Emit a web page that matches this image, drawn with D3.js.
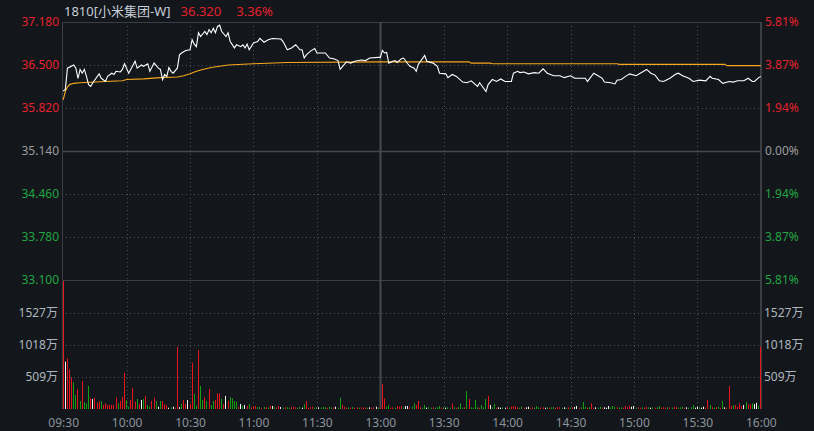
<!DOCTYPE html>
<html><head><meta charset="utf-8">
<script src="https://cdn.jsdelivr.net/npm/d3@7"></script>
<style>
html,body{margin:0;padding:0;background:#13161b;}
svg{display:block;}
text{font-family:"Noto Sans","Noto Sans CJK SC",sans-serif;}
</style></head><body>
<svg id="c" width="814" height="431"></svg>
<script>
const stockTitle = "1810[小米集团-W]";
const lastPrice = "36.320";
const lastChange = "3.36%";
const prevClose = 35.14;
const timeLabels = ["09:30","10:00","10:30","11:00","11:30","13:00","13:30","14:00","14:30","15:00","15:30","16:00"];
const priceTicks = [37.18,36.50,35.82,35.14,34.46,33.78,33.10];
const pctTickLabels = ["5.81%","3.87%","1.94%","0.00%","1.94%","3.87%","5.81%"];
const volTicks = [509,1018,1527];
const volMax = 2036;

const priceTimes = ["09:30","09:31","09:32","09:35","09:36","09:37","09:38","09:39","09:40","09:41","09:42","09:43","09:44","09:47","09:48","09:50","09:51","09:53","09:54","09:55","09:57","09:58","09:59","10:01","10:04","10:05","10:07","10:08","10:10","10:11","10:13","10:15","10:16","10:17","10:18","10:19","10:20","10:21","10:22","10:24","10:25","10:26","10:28","10:30","10:31","10:32","10:33","10:34","10:35","10:37","10:38","10:39","10:40","10:41","10:42","10:43","10:44","10:45","10:47","10:48","10:49","10:51","10:52","10:54","10:55","10:56","10:57","10:58","11:00","11:02","11:03","11:05","11:07","11:09","11:13","11:14","11:16","11:18","11:20","11:22","11:23","11:24","11:25","11:27","11:29","11:30","11:34","11:36","11:38","11:40","11:41","11:43","11:44","11:46","11:48","11:51","11:53","11:55","11:59","12:00",
"13:01","13:02","13:03","13:04","13:06","13:07","13:08","13:10","13:11","13:13","13:14","13:16","13:17","13:18","13:21","13:22","13:25","13:27","13:28","13:31","13:32","13:34","13:36","13:39","13:41","13:43","13:46","13:47","13:50","13:51","13:53","13:55","13:57","13:59","14:02","14:03","14:05","14:06","14:08","14:10","14:13","14:15","14:17","14:19","14:22","14:25","14:27","14:30","14:32","14:37","14:38","14:41","14:43","14:45","14:46","14:49","14:51","14:52","14:54","14:56","14:58","15:01","15:06","15:08","15:10","15:12","15:14","15:17","15:20","15:21","15:23","15:26","15:28","15:31","15:34","15:36","15:37","15:40","15:42","15:45","15:47","15:49","15:52","15:54","15:56","15:57","15:59","16:00"];
const priceValues = [36.09,36.11,36.45,36.50,36.45,36.29,36.43,36.37,36.43,36.32,36.19,36.16,36.22,36.36,36.29,36.24,36.32,36.37,36.35,36.40,36.39,36.43,36.52,36.37,36.56,36.45,36.50,36.48,36.52,36.40,36.53,36.45,36.43,36.27,36.35,36.32,36.46,36.40,36.37,36.45,36.66,36.69,36.73,36.74,36.90,36.83,36.79,37.01,36.95,37.03,36.98,37.06,37.01,37.08,37.01,37.11,37.13,37.03,36.95,37.01,36.87,36.77,36.82,36.79,36.82,36.77,36.83,36.74,36.85,36.87,36.92,36.86,36.90,36.92,36.91,36.87,36.74,36.77,36.82,36.74,36.74,36.61,36.66,36.72,36.76,36.69,36.69,36.61,36.60,36.57,36.43,36.51,36.55,36.53,36.56,36.58,36.57,36.61,36.62,36.62,
36.73,36.69,36.70,36.53,36.56,36.57,36.54,36.60,36.61,36.52,36.48,36.45,36.40,36.51,36.65,36.56,36.53,36.48,36.37,36.36,36.30,36.35,36.32,36.23,36.22,36.25,36.16,36.22,36.08,36.19,36.27,36.24,36.28,36.24,36.24,36.37,36.40,36.38,36.39,36.36,36.38,36.37,36.44,36.37,36.33,36.33,36.30,36.33,36.29,36.29,36.24,36.37,36.33,36.29,36.23,36.22,36.20,36.26,36.27,36.32,36.36,36.33,36.43,36.37,36.34,36.25,36.24,36.29,36.36,36.37,36.33,36.29,36.24,36.26,36.25,36.32,36.29,36.27,36.21,36.24,36.23,36.25,36.25,36.29,36.24,36.24,36.30,36.32];

const avgTimes = ["09:30","09:31","09:32","09:33","09:35","09:38","09:45","09:50","09:58","10:00","10:08","10:16","10:24","10:27","10:30","10:33","10:36","10:40","10:44","10:48","11:00","11:16","12:00","13:42","13:43","13:52","13:53","14:52","14:53","15:43","15:44","16:00"];
const avgValues = [35.95,36.08,36.15,36.19,36.21,36.22,36.23,36.24,36.25,36.27,36.28,36.30,36.31,36.33,36.36,36.40,36.43,36.46,36.48,36.50,36.52,36.54,36.55,36.55,36.53,36.53,36.52,36.52,36.51,36.51,36.49,36.49];

// volume per minute (万), one bar per trading minute 09:30 .. 16:00
const volumes = [
2036,753,806,631,504,424,223,313,127,445,
106,90,366,170,159,180,101,120,127,64,
90,64,64,64,64,180,90,127,196,578,
143,37,143,339,117,159,80,143,159,207,
64,37,127,180,127,37,127,127,74,64,
21,27,37,21,991,30,80,143,80,143,
80,737,239,53,938,366,143,186,127,318,
64,127,143,249,249,159,80,207,127,186,
170,127,117,37,80,48,64,48,80,27,
48,48,30,32,21,32,27,21,48,48,
27,21,48,32,21,27,27,21,27,37,
27,21,32,21,74,127,21,27,37,21,
27,27,21,32,27,21,37,21,27,37,
21,180,64,37,21,27,21,32,21,27,
21,27,21,27,21,27,21,27,37,21,
27,398,170,37,64,21,27,21,48,37,
48,27,48,48,27,37,90,64,127,27,
21,64,21,27,21,27,21,27,48,21,
27,21,27,21,90,27,21,32,90,21,
27,286,159,27,21,143,27,21,64,27,
159,207,64,27,80,21,27,21,27,21,
27,21,37,48,37,27,21,37,21,27,
37,21,27,21,48,27,21,27,21,27,
21,27,32,21,27,27,21,27,21,27,
21,27,32,48,21,27,111,37,21,27,
90,21,27,21,37,21,27,21,48,27,
48,37,27,21,27,21,48,27,48,37,
48,21,27,21,27,21,37,27,21,27,
21,27,48,21,27,21,27,27,21,37,
27,21,27,37,21,27,21,27,64,21,
37,27,21,37,21,143,64,27,21,27,
37,21,127,27,21,366,48,64,64,37,
90,48,64,111,74,74,90,80,100,50,
991];
// r = up, g = down, w = unchanged
const volDirs = "rwrrrggrgr"+"gggrwrrrgr"+"rrrrrrgrrr"+"ggrrrgrwgr"+"ggrrgwgrrr"+"wgwrrwgrrw"+"rrggrggrgr"+"ggrrrgrwrg"+"gggrwgwrgr"+"rrggrgrgrw"+
"grrwgrggrr"+"rggwgrrrrg"+"gwgggrggrw"+"ggrrrgrgrr"+"grrrgwrrwg"+"rrrggrrgrr"+"rgwwrggrrr"+"ggwggrgggr"+"gwggrgrggg"+"rgrggggrgg"+
"grwggrwwgw"+"rgrrrrggrw"+"wrrgggrrwg"+"rggrrrgwgr"+"grwwrgggrg"+"rrwggrwwwg"+"ggrggrrrrw"+"wgrrgrrgwg"+"rggrrrgrgr"+"rgggrwgggw"+
"wgwwrrgrgr"+"grgwrrrgrr"+"rrwgrrgwwg"+"r";

function tradeIndex(t){
  const [h,m] = t.split(":").map(Number);
  const mins = h*60+m;
  return mins <= 720 ? mins-570 : 150 + (mins-780);
}

const C = {
  bg:"#13161b", grid:"#4a4e55", solid:"#3b3e44", mid:"#46494e",
  red:"#e4232d", green:"#22a542", gray:"#9c9c9c",
  vlab:"#aeb6bf", tlab:"#8c949c", title:"#c6ced8",
  barR:"#e8141c", barG:"#12a012", barW:"#f2f2f2",
  line:"#ffffff", avg:"#f6a81d"
};

const svg = d3.select("#c");
svg.append("rect").attr("width",814).attr("height",431).attr("fill",C.bg);

const xL = 62, xR = 761, yTop = 22, yMid = 280, yBot = 409;
const x = d3.scaleLinear().domain([0,330]).range([63.2,760.8]);
const yP = d3.scaleLinear().domain([33.10,37.18]).range([yMid,yTop]);
const yV = d3.scaleLinear().domain([0,volMax]).range([yBot,281]);

const tickIdx = timeLabels.map(tradeIndex);

// grid: horizontal dotted
const g = svg.append("g");
priceTicks.forEach(v=>{
  if (v===37.18 || v===33.10 || v===prevClose) return;
  g.append("line").attr("x1",xL).attr("x2",xR).attr("y1",Math.round(yP(v))+0.5).attr("y2",Math.round(yP(v))+0.5)
    .attr("stroke",C.grid).attr("stroke-dasharray","1,3");
});
volTicks.forEach(v=>{
  g.append("line").attr("x1",xL).attr("x2",xR).attr("y1",Math.round(yV(v))+0.5).attr("y2",Math.round(yV(v))+0.5)
    .attr("stroke",C.grid).attr("stroke-dasharray","1,3");
});
// vertical dotted
tickIdx.forEach(i=>{
  if (i===0 || i===150 || i===330) return;
  const xx = Math.round(x(i))+0.5;
  g.append("line").attr("x1",xx).attr("x2",xx).attr("y1",yTop).attr("y2",yBot)
    .attr("stroke",C.grid).attr("stroke-dasharray","1,3");
});
// solid lines
g.append("line").attr("x1",xL).attr("x2",xR).attr("y1",yTop+0.5).attr("y2",yTop+0.5).attr("stroke",C.solid);
g.append("line").attr("x1",xL).attr("x2",xR).attr("y1",yP(prevClose)+0.5).attr("y2",yP(prevClose)+0.5).attr("stroke",C.mid).attr("stroke-width",1.6);
g.append("line").attr("x1",xL).attr("x2",xR).attr("y1",yMid+0.5).attr("y2",yMid+0.5).attr("stroke",C.solid);
const xLunch = Math.round(x(150))+0.5;
g.append("line").attr("x1",xLunch).attr("x2",xLunch).attr("y1",yTop).attr("y2",yBot).attr("stroke",C.mid).attr("stroke-width",2);
g.append("line").attr("x1",xL+0.5).attr("x2",xL+0.5).attr("y1",yTop).attr("y2",yBot).attr("stroke",C.solid);
g.append("line").attr("x1",xR).attr("x2",xR).attr("y1",yTop).attr("y2",yBot).attr("stroke",C.mid).attr("stroke-width",1.6);

// volume bars
const barColor = d => d==="r"?C.barR:(d==="g"?C.barG:C.barW);
svg.append("g").selectAll("rect").data(volumes).join("rect")
  .attr("x",(d,i)=>Math.floor(x(i)))
  .attr("width",1)
  .attr("y",d=>yV(d))
  .attr("height",d=>yBot-yV(d))
  .attr("fill",(d,i)=>barColor(volDirs[i]));

// lines
const priceData = priceTimes.map((t,i)=>({i:tradeIndex(t),v:priceValues[i]}));
const avgData = avgTimes.map((t,i)=>({i:tradeIndex(t),v:avgValues[i]}));
const ln = d3.line().x(d=>x(d.i)).y(d=>yP(d.v));
svg.append("path").datum(avgData).attr("d",ln).attr("fill","none").attr("stroke",C.avg).attr("stroke-width",1.1);
svg.append("path").datum(priceData).attr("d",ln).attr("fill","none").attr("stroke",C.line).attr("stroke-width",1.1);

// axes
const colorFor = v => v>prevClose+1e-9 ? C.red : (v<prevClose-1e-9 ? C.green : C.gray);
const axL = svg.append("g").attr("transform",`translate(${xL},0)`)
  .call(d3.axisLeft(yP).tickValues(priceTicks).tickFormat(d3.format(".3f")).tickSize(0).tickPadding(3));
const axR = svg.append("g").attr("transform",`translate(${xR},0)`)
  .call(d3.axisRight(yP).tickValues(priceTicks).tickFormat((d,i)=>pctTickLabels[i]).tickSize(0).tickPadding(4));
[axL,axR].forEach(a=>{
  a.select(".domain").remove();
  a.selectAll("text").attr("fill",d=>colorFor(d)).style("font-size","12px");
});
const avL = svg.append("g").attr("transform",`translate(${xL},0)`)
  .call(d3.axisLeft(yV).tickValues(volTicks).tickFormat(d=>d+"万").tickSize(0).tickPadding(4));
const avR = svg.append("g").attr("transform",`translate(${xR},0)`)
  .call(d3.axisRight(yV).tickValues(volTicks).tickFormat(d=>d+"万").tickSize(0).tickPadding(3));
[avL,avR].forEach(a=>{
  a.select(".domain").remove();
  a.selectAll("text").attr("fill",C.vlab).style("font-size","12px");
});
const axB = svg.append("g").attr("transform",`translate(0,${yBot})`)
  .call(d3.axisBottom(x).tickValues(tickIdx).tickFormat((d,i)=>timeLabels[i]).tickSize(0).tickPadding(9));
axB.select(".domain").remove();
axB.selectAll("text").attr("fill",C.tlab).style("font-size","12px");
svg.selectAll(".tick line").remove();
svg.selectAll("g[font-family]").attr("font-family",null);

// header
const t1 = svg.append("text").attr("x",64).attr("y",16).attr("fill",C.title).style("font-size","13px").text(stockTitle);
const w1 = t1.node().getComputedTextLength();
const t2 = svg.append("text").attr("x",64+w1+10).attr("y",16).attr("fill",C.red).style("font-size","13px").text(lastPrice);
const w2 = t2.node().getComputedTextLength();
svg.append("text").attr("x",64+w1+10+w2+15).attr("y",16).attr("fill",C.red).style("font-size","13px").text(lastChange);
</script></body></html>
